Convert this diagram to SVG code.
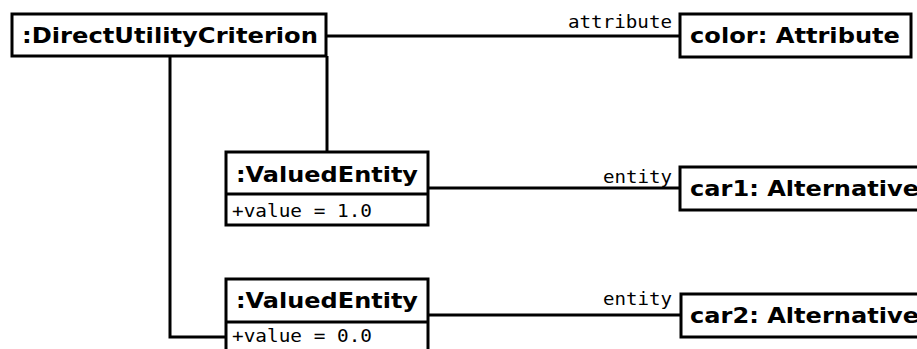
<svg xmlns="http://www.w3.org/2000/svg" width="917" height="349" viewBox="0 0 917 349">
<style>
.box{fill:#fff;stroke:#000;stroke-width:3}
.conn{fill:none;stroke:#000;stroke-width:3}
.title{font-family:"DejaVu Sans",sans-serif;font-weight:bold;font-size:22px;fill:#000}
.mono{font-family:"DejaVu Sans Mono",monospace;font-size:17px;fill:#000}
</style>
<rect width="917" height="349" fill="#fff"/>
<g id="connectors">
<path class="conn" d="M326 36 H680"/>
<path class="conn" d="M327 56 V152"/>
<path class="conn" d="M170 56 V337 H226"/>
<path class="conn" d="M428 188 H680"/>
<path class="conn" d="M428 315 H681"/>
<text class="mono" x="568" y="28" textLength="104" lengthAdjust="spacingAndGlyphs">attribute</text>
<text class="mono" x="603" y="183" textLength="69" lengthAdjust="spacingAndGlyphs">entity</text>
<text class="mono" x="603" y="305" textLength="69" lengthAdjust="spacingAndGlyphs">entity</text>
</g>
<g id="duc">
<rect class="box" x="12" y="14" width="314" height="42"/>
<text class="title" x="22" y="43" textLength="296" lengthAdjust="spacingAndGlyphs">:DirectUtilityCriterion</text>
</g>
<g id="color">
<rect class="box" x="680" y="14" width="231" height="43"/>
<text class="title" x="690" y="43" textLength="210" lengthAdjust="spacingAndGlyphs">color: Attribute</text>
</g>
<g id="ve1">
<rect class="box" x="226" y="152" width="202" height="73"/>
<path class="conn" d="M226 194 H428"/>
<text class="title" x="236" y="182" textLength="182" lengthAdjust="spacingAndGlyphs">:ValuedEntity</text>
<text class="mono" x="232" y="217" textLength="140" lengthAdjust="spacingAndGlyphs">+value = 1.0</text>
</g>
<g id="car1">
<rect class="box" x="680" y="167" width="260" height="43"/>
<text class="title" x="690" y="196" textLength="229" lengthAdjust="spacingAndGlyphs">car1: Alternative</text>
</g>
<g id="ve2">
<rect class="box" x="226" y="279" width="202" height="90"/>
<path class="conn" d="M226 322 H428"/>
<text class="title" x="236" y="308" textLength="182" lengthAdjust="spacingAndGlyphs">:ValuedEntity</text>
<text class="mono" x="232" y="342" textLength="140" lengthAdjust="spacingAndGlyphs">+value = 0.0</text>
</g>
<g id="car2">
<rect class="box" x="681" y="294" width="260" height="43"/>
<text class="title" x="690" y="323" textLength="229" lengthAdjust="spacingAndGlyphs">car2: Alternative</text>
</g>
</svg>
